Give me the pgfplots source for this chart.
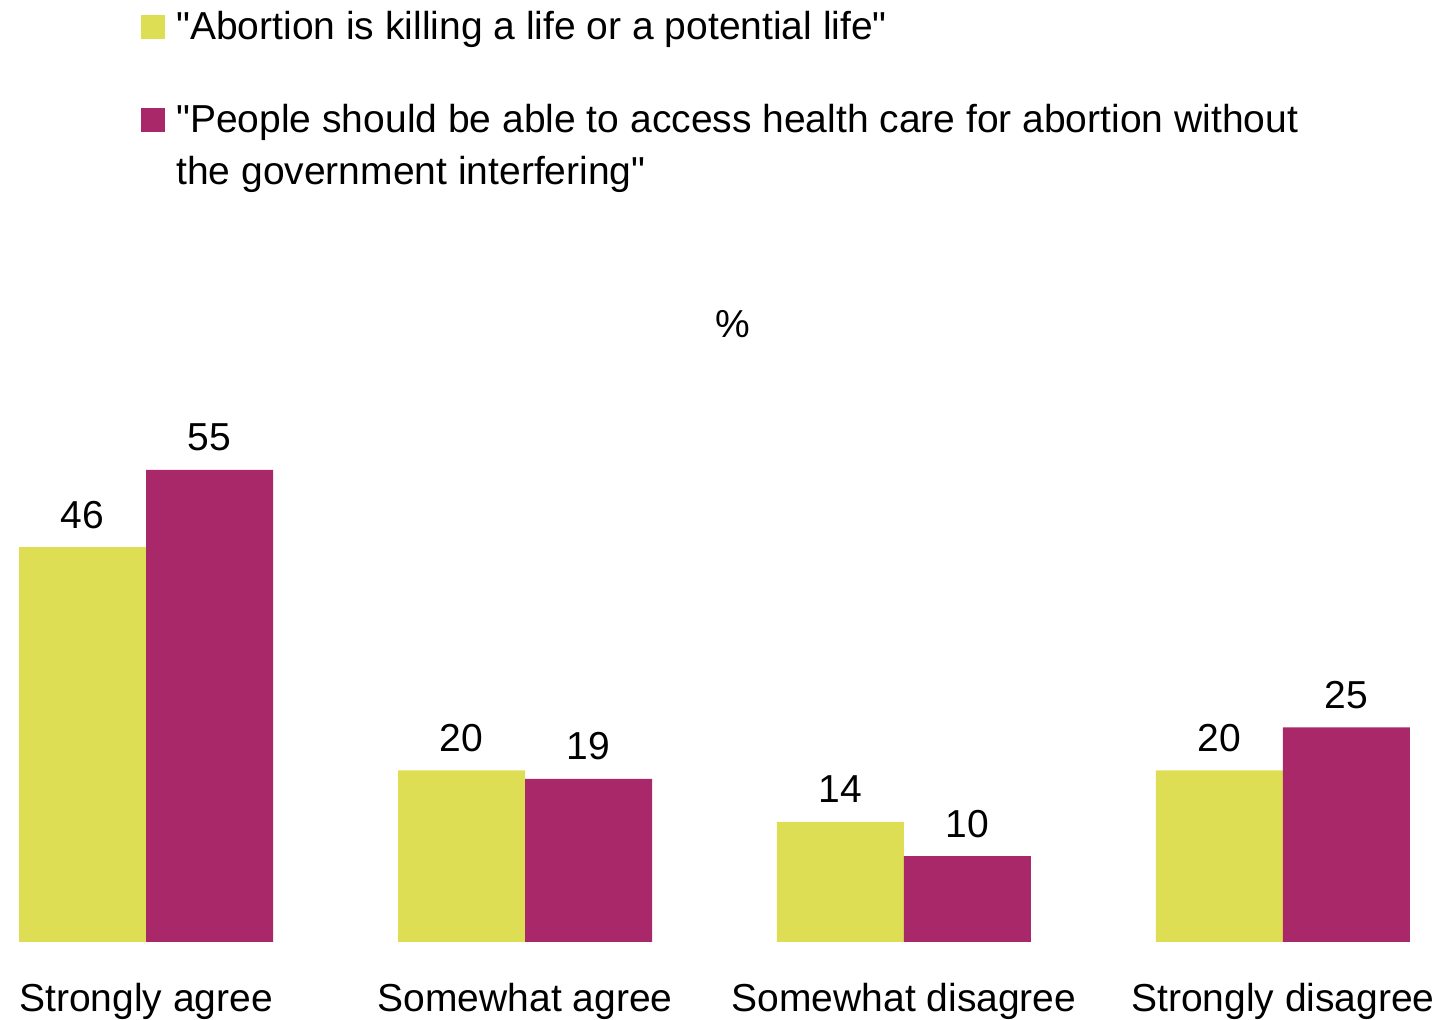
\documentclass[border=0pt]{standalone}
\usepackage{pgfplots}
\pgfplotsset{compat=1.18}
\usepackage{fontspec}
\setmainfont{Liberation Sans}[Ligatures=TeXOff]
\definecolor{ylw}{RGB}{222,222,85}
\definecolor{mag}{RGB}{168,40,106}
\newcommand{\q}{\symbol{34}}
\begin{document}
\begin{tikzpicture}
\useasboundingbox (-9.5pt,-39pt) rectangle (710.5pt,471pt);
\begin{axis}[
  at={(0,0)}, anchor=south west, scale only axis,
  width=695.5pt, height=257.5pt,
  ymin=0, ymax=60, xmin=-0.3354, xmax=3.3354,
  clip=false,
  ybar=0pt, bar width=63.5pt,
  axis line style={draw=none},
  ytick=\empty,
  xtick={0,1,2,3},
  xticklabels={Strongly agree,Somewhat agree,Somewhat disagree,Strongly disagree},
  major tick length=0pt,
  font=\fontsize{19.5}{26}\selectfont,
  xticklabel style={anchor=base, yshift=-35pt},
  /pgf/number format/assume math mode=true,
  nodes near coords,
  every node near coord/.append style={anchor=base, yshift=9.5pt, text=black},
  legend cell align=left,
  legend style={at={(0.0877,1.816)}, anchor=north west, draw=none, fill=none,
    inner sep=0pt, cells={anchor=base west, inner sep=0pt},
    row sep=26.8pt, column sep=3.5pt},
]
\addplot[fill=ylw, draw=none, legend image code/.code={\fill[ylw] (0pt,0pt) rectangle (12pt,12pt);}]
  coordinates {(0,46) (1,20) (2,14) (3,20)};
\addlegendentry{\q Abortion is killing a life or a potential life\q}
\addplot[fill=mag, draw=none, legend image code/.code={\fill[mag] (0pt,0pt) rectangle (12pt,12pt);}]
  coordinates {(0,55) (1,19) (2,10) (3,25)};
\addlegendentry{\parbox[t]{580pt}{\q People should be able to access health care for abortion without\\the government interfering\q}}
\node[anchor=base] at (rel axis cs:0.513,1) [yshift=44.5pt] {\%};
\end{axis}
\end{tikzpicture}
\end{document}
